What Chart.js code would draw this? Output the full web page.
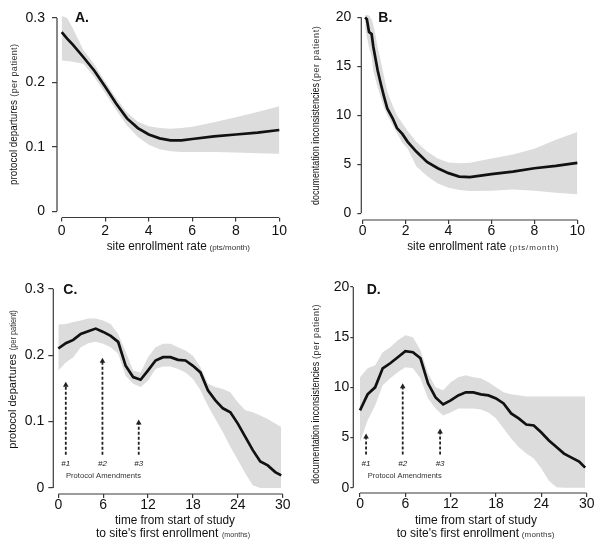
<!DOCTYPE html>
<html><head><meta charset="utf-8">
<script src="https://cdn.jsdelivr.net/npm/chart.js@4.4.0/dist/chart.umd.min.js"></script>
<style>
html,body{margin:0;padding:0;background:#fff;}
#wrap{position:relative;width:600px;height:544px;background:#fff;}
canvas{position:absolute;left:0;top:0;}
</style></head><body><div id="wrap">
<canvas id="cA" width="600" height="544"></canvas>
<canvas id="cB" width="600" height="544"></canvas>
<canvas id="cC" width="600" height="544"></canvas>
<canvas id="cD" width="600" height="544"></canvas>
</div>
<script>
// ---------- Panel A: protocol departures vs site enrollment rate ----------
const aX     = [0, 0.25, 0.5, 1, 1.5, 2, 2.5, 3, 3.5, 4, 4.5, 5, 5.5, 6, 7, 8, 9, 10];
const aLine  = [0.278, 0.268, 0.259, 0.239, 0.218, 0.193, 0.167, 0.144, 0.129, 0.119, 0.113, 0.110, 0.110, 0.112, 0.116, 0.119, 0.122, 0.126];
const aUpper = [0.303, 0.300, 0.285, 0.250, 0.228, 0.201, 0.176, 0.153, 0.139, 0.132, 0.129, 0.128, 0.129, 0.131, 0.138, 0.146, 0.154, 0.163];
const aLower = [0.234, 0.233, 0.232, 0.229, 0.208, 0.183, 0.157, 0.133, 0.115, 0.103, 0.096, 0.093, 0.092, 0.092, 0.092, 0.091, 0.090, 0.089];
const aXTicks = [0, 2, 4, 6, 8, 10];
const aYTicks = [0, 0.1, 0.2, 0.3];
const aYTickLabels = ['0', '0.1', '0.2', '0.3'];

// ---------- Panel B: documentation inconsistencies vs site enrollment rate ----------
const bX     = [0.12, 0.2, 0.3, 0.42, 0.5, 0.6, 0.7, 0.85, 1.0, 1.15, 1.4, 1.6, 1.85, 2.1, 2.5, 3, 3.5, 4, 4.5, 5, 6, 7, 8, 9, 10];
const bLine  = [20, 19.8, 18.5, 18.3, 17.0, 15.8, 14.6, 13.2, 11.9, 10.7, 9.7, 8.7, 8.1, 7.3, 6.3, 5.25, 4.6, 4.1, 3.75, 3.7, 4.0, 4.25, 4.6, 4.85, 5.15];
const bUpper = [20.3, 20.3, 20.2, 19.8, 19.2, 18.2, 17.0, 15.5, 13.9, 12.4, 11.0, 10.0, 9.2, 8.4, 7.3, 6.3, 5.6, 5.2, 5.1, 5.15, 5.6, 6.0, 6.6, 7.5, 8.3];
const bLower = [18.8, 18.0, 17.0, 16.0, 14.5, 13.7, 12.9, 11.8, 10.8, 10.0, 9.0, 8.2, 7.2, 6.6, 4.8, 3.8, 3.05, 2.6, 2.37, 2.27, 2.3, 2.44, 2.3, 2.1, 1.95];
const bXTicks = [0, 2, 4, 6, 8, 10];
const bYTicks = [0, 5, 10, 15, 20];
const bYTickLabels = ['0', '5', '10', '15', '20'];

// ---------- Panel C: protocol departures vs time to first enrollment ----------
const cX     = [0,1,2,3,4,5,6,7,8,9,10,11,12,13,14,15,16,17,18,19,20,21,22,23,24,25,26,27,28,29,29.8];
const cLine  = [0.210,0.218,0.223,0.232,0.236,0.240,0.235,0.229,0.220,0.184,0.167,0.163,0.177,0.192,0.197,0.197,0.193,0.192,0.184,0.174,0.147,0.132,0.120,0.114,0.097,0.077,0.057,0.040,0.034,0.024,0.019];
const cUpper = [0.246,0.247,0.250,0.252,0.255,0.255,0.252,0.247,0.232,0.205,0.177,0.174,0.197,0.212,0.217,0.217,0.212,0.207,0.199,0.182,0.157,0.152,0.149,0.144,0.129,0.117,0.114,0.109,0.104,0.097,0.092];
const cLower = [0.177,0.189,0.197,0.212,0.218,0.220,0.217,0.212,0.202,0.169,0.157,0.152,0.162,0.179,0.183,0.183,0.179,0.174,0.164,0.147,0.124,0.104,0.084,0.062,0.042,0.022,0.004,0,0,0,0];
const cXTicks = [0, 6, 12, 18, 24, 30];
const cYTicks = [0, 0.1, 0.2, 0.3];
const cYTickLabels = ['0', '0.1', '0.2', '0.3'];
const cAmendMonths = [1.0, 5.9, 10.75];
const cAmendTips   = [0.16, 0.196, 0.103];
const cAmendBase   = 0.05;

// ---------- Panel D: documentation inconsistencies vs time to first enrollment ----------
const dX     = [0,1,2,3,4,5,6,7,8,9,10,11,12,13,14,15,16,17,18,19,20,21,22,23,24,25,26,27,28,29,29.8];
const dLine  = [7.7,9.3,10.0,11.9,12.4,13.0,13.6,13.5,12.9,10.4,9.0,8.3,8.7,9.2,9.5,9.5,9.3,9.2,8.9,8.4,7.4,6.9,6.3,6.2,5.5,4.7,4.05,3.4,3.0,2.6,2.0];
const dUpper = [11.0,11.9,12.2,13.5,14.0,14.7,15.2,15.0,13.7,11.4,10.0,9.7,10.5,11.0,11.2,11.0,10.9,10.5,10.0,9.5,9.3,9.2,9.1,9.1,9.1,9.1,9.1,9.1,9.1,9.1,9.1];
const dLower = [4.55,6.7,8.2,10.2,10.9,11.5,12.0,11.9,10.9,8.9,7.9,7.2,7.5,7.9,7.9,7.9,7.8,7.5,6.9,5.9,4.9,4.05,3.4,2.9,1.9,0.7,0.05,0,0,0,0];
const dXTicks = [0, 6, 12, 18, 24, 30];
const dYTicks = [0, 5, 10, 15, 20];
const dYTickLabels = ['0', '5', '10', '15', '20'];
const dAmendMonths = [0.8, 5.65, 10.6];
const dAmendTips   = [5.4, 10.4, 5.9];
const dAmendBase   = 3.3;
const amendLabels  = ['#1', '#2', '#3'];

const FONT = '"Liberation Sans", Arial, Helvetica, sans-serif';
const AXIS_COLOR = '#3a3a3a';
const BAND_COLOR = '#dcdcdc';
const X_AXIS_H = 28;

function pts(xs, ys) { return xs.map((x, i) => ({ x: x, y: ys[i] })); }

function fitText(ctx, text, x, y, size, weight, target) {
  ctx.font = weight + ' ' + size + 'px ' + FONT;
  if ('letterSpacing' in ctx) ctx.letterSpacing = '0px';
  const w = ctx.measureText(text).width;
  if (!target || Math.abs(w - target) < 1) { ctx.fillText(text, x, y); return; }
  if (w > target) { ctx.fillText(text, x, y, target); return; }
  if ('letterSpacing' in ctx) {
    ctx.letterSpacing = ((target - w) / text.length).toFixed(2) + 'px';
    ctx.fillText(text, x, y);
    ctx.letterSpacing = '0px';
  } else ctx.fillText(text, x, y);
}

const decorPlugin = {
  id: 'decor',
  afterDraw(chart) {
    const p = chart.options.plugins.decor;
    const ctx = chart.ctx;
    const xs = chart.scales.x, ys = chart.scales.y;
    const area = chart.chartArea;
    ctx.save();
    // axis lines (R style: from first to last tick)
    ctx.strokeStyle = AXIS_COLOR; ctx.lineWidth = 1.2;
    ctx.beginPath();
    ctx.moveTo(area.left, ys.getPixelForValue(p.yTicks[0]));
    ctx.lineTo(area.left, ys.getPixelForValue(p.yTicks[p.yTicks.length - 1]));
    ctx.moveTo(xs.getPixelForValue(p.xTicks[0]), area.bottom);
    ctx.lineTo(xs.getPixelForValue(p.xTicks[p.xTicks.length - 1]), area.bottom);
    ctx.stroke();
    // panel label
    ctx.fillStyle = '#111';
    ctx.textBaseline = 'alphabetic'; ctx.textAlign = 'left';
    ctx.font = 'bold 14px ' + FONT;
    ctx.fillText(p.label.t, p.label.x, p.label.y);
    // x title pieces
    p.xTitle.forEach(s => {
      ctx.fillStyle = s.color || '#111';
      fitText(ctx, s.t, s.x, s.y, s.size, s.weight || 'normal', s.w);
    });
    // y title (rotated)
    const yt = p.yTitle;
    ctx.save();
    ctx.translate(yt.x, yt.yStart);
    ctx.rotate(-Math.PI / 2);
    ctx.fillStyle = '#111';
    fitText(ctx, yt.main, 0, 0, yt.size, 'normal', yt.mainLen);
    ctx.fillStyle = '#333';
    fitText(ctx, yt.small, yt.yStart - yt.smallStart, 0, 9, 'normal', yt.smallLen);
    ctx.restore();
    // amendment arrows
    if (p.amend) {
      const a = p.amend;
      a.months.forEach((m, i) => {
        const px = xs.getPixelForValue(m);
        const yb = ys.getPixelForValue(a.base);
        const yt2 = ys.getPixelForValue(a.tips[i]);
        ctx.strokeStyle = '#222'; ctx.lineWidth = 1.8;
        ctx.setLineDash([3, 2]);
        ctx.beginPath(); ctx.moveTo(px, yb); ctx.lineTo(px, yt2 + 4); ctx.stroke();
        ctx.setLineDash([]);
        ctx.fillStyle = '#222';
        ctx.beginPath(); ctx.moveTo(px, yt2); ctx.lineTo(px - 2.8, yt2 + 5); ctx.lineTo(px + 2.8, yt2 + 5); ctx.closePath(); ctx.fill();
        ctx.font = 'italic 8px ' + FONT; ctx.textAlign = 'center'; ctx.textBaseline = 'alphabetic';
        ctx.fillText(a.labels[i], px, a.labelY);
      });
      ctx.textAlign = 'left';
      ctx.fillStyle = '#333';
      fitText(ctx, 'Protocol Amendments', a.textX, a.textY, 8, 'normal', a.textW);
    }
    ctx.restore();
  }
};

function makePanel(id, d) {
  const yTickLabel = (v) => { const i = d.yTicks.indexOf(v); return i >= 0 ? d.yTickLabels[i] : ''; };
  const yW = d.area.left - 2;
  new Chart(document.getElementById(id), {
    type: 'line',
    data: {
      datasets: [
        { data: pts(d.x, d.line), borderColor: '#111', borderWidth: 2.7, pointRadius: 0, tension: 0, fill: false },
        { data: pts(d.bx, d.upper), borderWidth: 0, borderColor: 'rgba(0,0,0,0)', pointRadius: 0, tension: 0, fill: '+1', backgroundColor: BAND_COLOR },
        { data: pts(d.bx, d.lower), borderWidth: 0, borderColor: 'rgba(0,0,0,0)', pointRadius: 0, tension: 0, fill: false }
      ]
    },
    options: {
      responsive: false, animation: false, devicePixelRatio: 1,
      layout: { padding: { left: 2, top: d.area.top, right: 600 - d.area.right, bottom: 544 - d.area.bottom - X_AXIS_H } },
      plugins: { legend: { display: false }, tooltip: { enabled: false }, decor: d.decor },
      scales: {
        x: {
          type: 'linear', min: d.xMin, max: d.xMax,
          afterBuildTicks: s => { s.ticks = d.xTicks.map(v => ({ value: v })); },
          afterFit: s => { s.height = X_AXIS_H; },
          border: { display: false },
          grid: { display: true, drawOnChartArea: false, drawTicks: true, tickLength: 4, color: AXIS_COLOR, lineWidth: 1.2 },
          ticks: { font: { family: FONT, size: 14 }, color: '#111', padding: d.xPad, maxRotation: 0, autoSkip: false, callback: v => String(v) }
        },
        y: {
          type: 'linear', min: d.yMin, max: d.yMax,
          afterBuildTicks: s => { s.ticks = d.yTicks.map(v => ({ value: v })); },
          afterFit: s => { s.width = yW; },
          border: { display: false },
          grid: { display: true, drawOnChartArea: false, drawTicks: true, tickLength: d.yTl, color: AXIS_COLOR, lineWidth: 1.2 },
          ticks: { font: { family: FONT, size: 14 }, color: '#111', padding: d.yPad, autoSkip: false, callback: yTickLabel }
        }
      }
    },
    plugins: [decorPlugin]
  });
}

// Panel A
makePanel('cA', {
  x: aX, line: aLine, bx: aX, upper: aUpper, lower: aLower,
  xTicks: aXTicks, yTicks: aYTicks, yTickLabels: aYTickLabels,
  xMin: -0.216, xMax: 10.216, yMin: -0.0099, yMax: 0.304,
  area: { left: 57, top: 12, right: 284, bottom: 217.5 },
  xPad: 1, yTl: 5, yPad: 7,
  decor: {
    xTicks: aXTicks, yTicks: aYTicks,
    label: { t: 'A.', x: 75, y: 22 },
    xTitle: [ { t: 'site enrollment rate', x: 106.7, y: 250, size: 12, w: 100 },
              { t: '(pts/month)', x: 209.5, y: 250, size: 8, w: 41, color: '#333' } ],
    yTitle: { main: 'protocol departures', small: '(per patient)', x: 16.5, yStart: 185, size: 10.5, mainLen: 85, smallStart: 96.7, smallLen: 53 }
  }
});

// Panel B
makePanel('cB', {
  x: bX, line: bLine, bx: bX, upper: bUpper, lower: bLower,
  xTicks: bXTicks, yTicks: bYTicks, yTickLabels: bYTickLabels,
  xMin: -0.06, xMax: 10.12, yMin: -0.68, yMax: 20.3,
  area: { left: 361.3, top: 13.7, right: 579.9, bottom: 220 },
  xPad: -1.5, yTl: 4, yPad: 6,
  decor: {
    xTicks: bXTicks, yTicks: bYTicks,
    label: { t: 'B.', x: 378.3, y: 22 },
    xTitle: [ { t: 'site enrollment rate', x: 407.3, y: 250, size: 12, w: 99 },
              { t: '(pts/month)', x: 509.3, y: 250, size: 8, w: 50, color: '#333' } ],
    yTitle: { main: 'documentation inconsistencies', small: '(per patient)', x: 318.5, yStart: 205, size: 10.5, mainLen: 122, smallStart: 81.7, smallLen: 56 }
  }
});

// Panel C
makePanel('cC', {
  x: cX, line: cLine, bx: cX, upper: cUpper, lower: cLower,
  xTicks: cXTicks, yTicks: cYTicks, yTickLabels: cYTickLabels,
  xMin: -0.67, xMax: 30.6, yMin: -0.009, yMax: 0.3056,
  area: { left: 53.3, top: 285, right: 287.2, bottom: 494 },
  xPad: -1.5, yTl: 5, yPad: 4,
  decor: {
    xTicks: cXTicks, yTicks: cYTicks,
    label: { t: 'C.', x: 63.3, y: 293.7 },
    xTitle: [ { t: 'time from start of study', x: 115, y: 523.5, size: 12, w: 120 },
              { t: "to site's first enrollment", x: 96, y: 536.5, size: 12, w: 122 },
              { t: '(months)', x: 222, y: 536.5, size: 8, w: 28, color: '#333' } ],
    yTitle: { main: 'protocol departures', small: '(per patient)', x: 15.5, yStart: 448.7, size: 11, mainLen: 95, smallStart: 350.3, smallLen: 40 },
    amend: { months: cAmendMonths, tips: cAmendTips, base: cAmendBase, labels: amendLabels, labelY: 465.5, textX: 66, textY: 478, textW: 75 }
  }
});

// Panel D
makePanel('cD', {
  x: dX, line: dLine, bx: dX, upper: dUpper, lower: dLower,
  xTicks: dXTicks, yTicks: dYTicks, yTickLabels: dYTickLabels,
  xMin: -0.89, xMax: 30.44, yMin: -0.53, yMax: 20.3,
  area: { left: 353.3, top: 284, right: 590, bottom: 493 },
  xPad: -1.5, yTl: 3, yPad: 1,
  decor: {
    xTicks: dXTicks, yTicks: dYTicks,
    label: { t: 'D.', x: 366.7, y: 293.7 },
    xTitle: [ { t: 'time from start of study', x: 415, y: 523.5, size: 12, w: 122 },
              { t: "to site's first enrollment", x: 396.7, y: 536.5, size: 12, w: 122.6 },
              { t: '(months)', x: 521.7, y: 536.5, size: 8, w: 33, color: '#333' } ],
    yTitle: { main: 'documentation inconsistencies', small: '(per patient)', x: 318.5, yStart: 483.7, size: 10.5, mainLen: 122, smallStart: 359, smallLen: 55 },
    amend: { months: dAmendMonths, tips: dAmendTips, base: dAmendBase, labels: amendLabels, labelY: 465.5, textX: 367.7, textY: 478, textW: 74 }
  }
});
</script>
</body></html>
